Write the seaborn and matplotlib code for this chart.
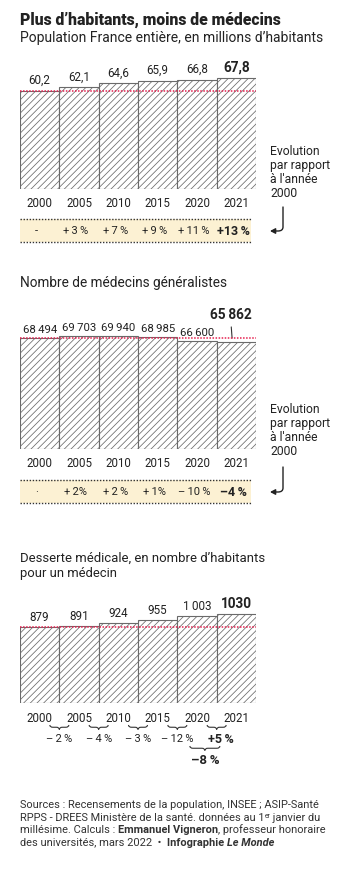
import numpy as np
import pandas as pd
import matplotlib
matplotlib.use('Agg')
import matplotlib.pyplot as plt
from matplotlib.path import Path
from matplotlib.patches import PathPatch, FancyArrowPatch, Rectangle
import matplotlib.transforms as mtransforms
import seaborn as sns

# ---------------- data ----------------
years = ['2000', '2005', '2010', '2015', '2020', '2021']
population = [60.2, 62.1, 64.6, 65.9, 66.8, 67.8]
pop_labels = ['60,2', '62,1', '64,6', '65,9', '66,8', '67,8']
pop_evol = ['-', '+\u20093\u2009%', '+\u20097\u2009%', '+\u20099\u2009%', '+\u200911\u2009%', '+13\u2009%']
medecins = [68494, 69703, 69940, 68985, 66600, 65862]
med_labels = ['68\u2009494', '69\u2009703', '69\u2009940', '68\u2009985', '66\u2009600', '65\u2009862']
med_evol = ['·', '+\u20092%', '+\u20092\u2009%', '+\u20091%', '–\u200910\u2009%', '–4\u2009%']
desserte = [879, 891, 924, 955, 1003, 1030]
des_labels = ['879', '891', '924', '955', '1\u2009003', '1030']
des_evol = ['–\u20092\u2009%', '–\u20094\u2009%', '–\u20093\u2009%', '–\u200912\u2009%', '+5\u2009%']
des_total = '–8\u2009%'

sns.set_style('white')
FONT = ['Roboto', 'DejaVu Sans']
plt.rcParams['font.family'] = FONT
plt.rcParams['hatch.color'] = '#808080'
plt.rcParams['hatch.linewidth'] = 0.55

W, H = 350, 871
fig = plt.figure(figsize=(W / 100, H / 100), dpi=100)
fig.patch.set_facecolor('white')
renderer = fig.canvas.get_renderer()

ov = fig.add_axes([0, 0, 1, 1])
ov.set_xlim(0, W)
ov.set_ylim(H, 0)
ov.axis('off')
ov.set_zorder(5)
ov.patch.set_alpha(0)

TXT = '#222222'
RED = '#e5204f'
L, R = 20, 256


def px_x(d):
    return L + (d + 0.5) * (R - L) / 6


def fit_text(x, y, s, width, **kw):
    t = ov.text(x, y, s, fontsize=10, color=TXT, va='baseline', **kw)
    bb = t.get_window_extent(renderer)
    t.set_fontsize(10 * width / bb.width)
    return t


def panel(values, labels, bottom_px, top_px, scale):
    ax = fig.add_axes([L / W, 1 - bottom_px / H, (R - L) / W, (bottom_px - top_px) / H])
    df = pd.DataFrame({'year': years, 'value': values})
    sns.barplot(data=df, x='year', y='value', ax=ax, color='white', width=1.0,
                edgecolor='#6a6a6a', linewidth=0.8, hatch='/////', saturation=1)
    ax.set_xlim(-0.5, 5.5)
    ax.set_ylim(0, (bottom_px - top_px) / scale)
    ax.axhline(values[0], color=RED, ls=(0, (1, 1)), lw=1.1, zorder=4)
    ax.axis('off')
    return ax


def year_row(y):
    for i, yr in enumerate(years):
        ov.text(px_x(i), y, yr, ha='center', va='center', fontsize=8.3, color=TXT)


def evol_band(y0, y1, labels):
    ov.add_patch(Rectangle((L, y0), 231, y1 - y0, facecolor='#fcf1d3', edgecolor='none', zorder=1))
    for yy in (y0, y1):
        ov.plot([L, L + 231], [yy, yy], color='#333333', lw=1, ls=(0, (1, 1.2)), zorder=2)
    for i, s in enumerate(labels):
        bold = i == len(labels) - 1
        ov.text(px_x(i) - 3, (y0 + y1) / 2 + 0.5, s, ha='center', va='center',
                fontsize=9 if bold else 8, fontweight='bold' if bold else 'normal', color=TXT, zorder=3)


def side_note(y_first, arrow_y0, arrow_y1):
    for k, s in enumerate(['Evolution', 'par rapport', "à l'année", '2000']):
        ov.text(270, y_first + 14 * k, s, fontsize=8.7, color=TXT, va='baseline')
    path = Path([(283, arrow_y0), (283, arrow_y1 - 4), (283, arrow_y1), (278, arrow_y1), (270, arrow_y1)],
                [Path.MOVETO, Path.LINETO, Path.CURVE3, Path.CURVE3, Path.LINETO])
    ov.add_patch(FancyArrowPatch(path=path, arrowstyle='-|>,head_length=3,head_width=1.6',
                                 color='#222222', lw=1, mutation_scale=1))


def brace(x0, x1, y, h=4.5, lw=0.8):
    xm = (x0 + x1) / 2
    r = min(3, (x1 - x0) / 6)
    verts = [(x0, y), (x0, y + h / 2), (x0 + r, y + h / 2),
             (xm - r, y + h / 2), (xm, y + h / 2), (xm, y + h),
             (xm, y + h / 2), (xm + r, y + h / 2),
             (x1 - r, y + h / 2), (x1, y + h / 2), (x1, y)]
    codes = [Path.MOVETO, Path.CURVE3, Path.CURVE3, Path.LINETO, Path.CURVE3, Path.CURVE3,
             Path.CURVE3, Path.CURVE3, Path.LINETO, Path.CURVE3, Path.CURVE3]
    ov.add_patch(PathPatch(Path(verts, codes), facecolor='none', edgecolor='#333333', lw=lw))


# ---------------- titles ----------------
fit_text(20, 25, 'Plus d\u2019habitants, moins de médecins', 260, fontweight='black')
fit_text(20, 42, 'Population France entière, en millions d\u2019habitants', 302)

# ---------------- panel 1 ----------------
ax1 = panel(population, pop_labels, 189, 55, 1.635)
for i, (v, s) in enumerate(zip(population, pop_labels)):
    bold = i == 5
    ax1.annotate(s, (i, v), xytext=(0, 4), textcoords='offset pixels', ha='center', va='bottom',
                 fontsize=9.8 if bold else 8.4, fontweight='bold' if bold else 'normal', color=TXT)
year_row(203)
evol_band(219, 242, pop_evol)
side_note(155, 207, 231)

# ---------------- panel 2 ----------------
fit_text(20, 287, 'Nombre de médecins généralistes', 208)
ax2 = panel(medecins, med_labels, 449, 300, 111 / 68494)
for i, (v, s) in enumerate(zip(medecins, med_labels)):
    if i == 5:
        ax2.annotate(s, (i - 0.1, v), xytext=(-2, 20), textcoords='offset pixels', ha='center', va='bottom',
                     fontsize=9.8, fontweight='bold', color=TXT,
                     arrowprops=dict(arrowstyle='-', lw=0.8, color='#333333', shrinkA=1, shrinkB=3))
    else:
        ax2.annotate(s, (i, v), xytext=(0, 3), textcoords='offset pixels', ha='center', va='bottom',
                     fontsize=8.2, color=TXT)
year_row(463)
evol_band(480, 503, med_evol)
side_note(413, 467, 492)

# ---------------- panel 3 ----------------
fit_text(20, 562, 'Desserte médicale, en nombre d\u2019habitants', 244)
fit_text(20, 577, 'pour un médecin', 97)
ax3 = panel(desserte, des_labels, 703, 590, 76 / 879)
for i, (v, s) in enumerate(zip(desserte, des_labels)):
    bold = i == 5
    ax3.annotate(s, (i, v), xytext=(0, 3), textcoords='offset pixels', ha='center', va='bottom',
                 fontsize=9.8 if bold else 8.4, fontweight='bold' if bold else 'normal', color=TXT)
year_row(718)
for i, s in enumerate(des_evol):
    xm = (px_x(i) + px_x(i + 1)) / 2
    brace(xm - 9.5, xm + 9.5, 725)
    bold = i == len(des_evol) - 1
    ov.text(xm + (4 if bold else 0), 739, s, ha='center', va='center',
            fontsize=9 if bold else 8, fontweight='bold' if bold else 'normal', color=TXT)
xm = px_x(4.2)
brace(xm - 15, xm + 15, 746)
ov.text(xm, 760, des_total, ha='center', va='center', fontsize=9.5, fontweight='bold', color=TXT)

# ---------------- sources ----------------
src_lines = [
    [('Sources\u00a0: Recensements de la population, INSEE\u00a0; ASIP-Santé', 'normal', 'normal', 0)],
    [('RPPS - DREES Ministère de la santé. données au 1', 'normal', 'normal', 0), ('er', 'normal', 'normal', 1),
     (' janvier du', 'normal', 'normal', 0)],
    [('millésime. Calculs\u00a0: ', 'normal', 'normal', 0), ('Emmanuel Vigneron', 'bold', 'normal', 0),
     (', professeur honoraire', 'normal', 'normal', 0)],
    [('des universités, mars 2022  \u2022  ', 'normal', 'normal', 0), ('Infographie ', 'bold', 'normal', 0),
     ('Le Monde', 'bold', 'italic', 0)],
]
t0 = ov.text(0, 0, src_lines[0][0][0], fontsize=10)
src_size = 10 * 298 / t0.get_window_extent(renderer).width
t0.remove()
inv = ov.transData.inverted()
for k, line in enumerate(src_lines):
    x = 20
    yb = 808 + 12.5 * k
    for s, wgt, sty, sup in line:
        fs = src_size * (0.6 if sup else 1)
        t = ov.text(x, yb - (3 if sup else 0), s, fontsize=fs, fontweight=wgt, fontstyle=sty,
                    color='#333333', va='baseline')
        bb = t.get_window_extent(renderer)
        x = inv.transform((bb.x1, 0))[0]

fig.savefig('out.png', dpi=100, facecolor='white')
